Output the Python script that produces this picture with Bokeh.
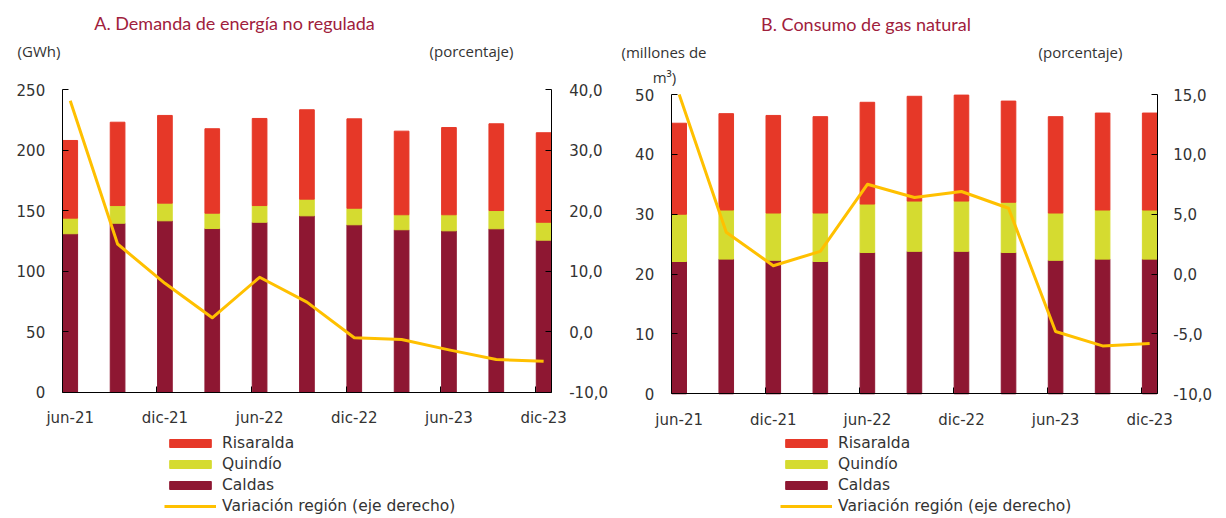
from bokeh.plotting import figure
from bokeh.models import (Range1d, LinearAxis, FixedTicker, CustomJSTickFormatter,
                          Label, Legend, LegendItem, ColumnDataSource)
from bokeh.layouts import row
from bokeh.embed import file_html
from bokeh.resources import INLINE

# ---------------- data ----------------
periods = ["jun-21", "sep-21", "dic-21", "mar-22", "jun-22", "sep-22",
           "dic-22", "mar-23", "jun-23", "sep-23", "dic-23"]
tick_labels = periods[0::2]

# A. Demanda de energía no regulada (GWh)
energy_caldas = [131.0, 139.7, 141.7, 135.3, 140.5, 145.8, 138.4, 134.3, 133.4, 135.1, 125.7]
energy_quindio = [12.9, 14.6, 14.6, 12.7, 13.8, 13.8, 13.7, 12.4, 13.3, 15.1, 14.8]
energy_risaralda = [64.2, 68.9, 72.5, 69.8, 72.0, 73.9, 73.9, 69.1, 72.1, 71.7, 74.0]
energy_var = [38.2, 14.5, 8.0, 2.3, 9.0, 4.9, -1.0, -1.3, -3.0, -4.6, -4.9]

# B. Consumo de gas natural (millones de m3)
gas_caldas = [22.1, 22.5, 22.3, 22.1, 23.6, 23.8, 23.8, 23.6, 22.3, 22.5, 22.5]
gas_quindio = [7.9, 8.2, 7.9, 8.1, 8.1, 8.4, 8.4, 8.4, 7.9, 8.2, 8.2]
gas_risaralda = [15.2, 16.1, 16.3, 16.1, 17.0, 17.5, 17.7, 16.9, 16.1, 16.2, 16.2]
gas_var = [15.0, 3.5, 0.7, 1.9, 7.5, 6.4, 6.9, 5.5, -4.8, -6.0, -5.8]

series_names = ["Risaralda", "Quindío", "Caldas", "Variación región (eje derecho)"]

# ---------------- style ----------------
C_RIS = "#E63828"
C_QUI = "#D5DB30"
C_CAL = "#8E1732"
C_LINE = "#FFC000"
TITLE_COLOR = "#A0203C"
TEXT = "#333333"
TICK_FONT = "DejaVu Sans"
TEXT_FONT = "Open Sans"
LEGEND_FONT = "DejaVu Sans"
TITLE_FONT = "Lato"
XR = (-0.17, 10.16)      # x extent of the axes (category index units)
H = 518


def make_panel(width, geo, yl, yl_ticks, yr, yr_ticks,
               caldas, quindio, risaralda, var,
               title, title_xy, texts, legend_x, r_standoff):
    gl, gr, gb, gt = geo   # pixel positions: left axis, right axis, bottom, top of axes

    def vx(px):
        return XR[0] + (px - gl) * (XR[1] - XR[0]) / (gr - gl)

    def vy(py, rng):
        return rng[0] + (gb - py) * (rng[1] - rng[0]) / (gb - gt)

    p = figure(width=width, height=H, title=None,
               x_range=Range1d(vx(0), vx(width)),
               y_range=Range1d(vy(H, yl), vy(0, yl)),
               output_backend="svg", toolbar_location=None, min_border=0)
    p.outline_line_color = None
    p.grid.visible = False
    p.extra_y_ranges = {"pct": Range1d(vy(H, yr), vy(0, yr))}

    xs = list(range(len(periods)))
    src = ColumnDataSource(dict(x=xs, periods=periods, caldas=caldas,
                                quindio=quindio, risaralda=risaralda))
    rs = p.vbar_stack(["caldas", "quindio", "risaralda"], x="x", width=0.31,
                      color=[C_CAL, C_QUI, C_RIS], source=src)
    lsrc = ColumnDataSource(dict(x=xs, period=periods, v=var))
    ln = p.line("x", "v", source=lsrc, y_range_name="pct", line_color=C_LINE,
                line_width=3, line_join="round")

    # x axis
    xa = p.xaxis[0]
    xa.fixed_location = yl[0]
    xa.bounds = XR
    xa.ticker = FixedTicker(ticks=[0, 2, 4, 6, 8, 10],
                            minor_ticks=[1.83, 3.83, 5.83, 7.83, 9.83])
    xa.formatter = CustomJSTickFormatter(
        args=dict(labels=tick_labels),
        code="const i = Math.round(tick/2); return (i >= 0 && i < labels.length) ? labels[i] : '';")
    xa.major_tick_in = 0
    xa.major_tick_out = 0
    xa.minor_tick_in = 6
    xa.minor_tick_out = 0
    xa.minor_tick_line_color = "black"
    xa.major_label_standoff = 17

    # left y axis
    ya = p.yaxis[0]
    ya.fixed_location = XR[0]
    ya.bounds = yl
    ya.ticker = FixedTicker(ticks=yl_ticks)
    ya.major_tick_in = 6
    ya.major_tick_out = 0
    ya.minor_tick_in = 0
    ya.minor_tick_out = 0
    ya.major_label_standoff = 17

    # right y axis
    ra = LinearAxis(y_range_name="pct", ticker=FixedTicker(ticks=yr_ticks),
                    fixed_location=XR[1], bounds=yr,
                    formatter=CustomJSTickFormatter(code="return tick.toFixed(1).replace('.', ',');"))
    ra.major_tick_in = 6
    ra.major_tick_out = 0
    ra.minor_tick_in = 0
    ra.minor_tick_out = 0
    ra.major_label_standoff = r_standoff
    p.add_layout(ra, "right")

    for ax in [xa, ya, ra]:
        ax.axis_line_color = "black"
        ax.axis_line_width = 1
        ax.major_tick_line_color = "black"
        ax.major_label_text_font = TICK_FONT
        ax.major_label_text_font_size = "15px"
        ax.major_label_text_color = TEXT

    # title and unit texts
    p.add_layout(Label(x=vx(title_xy[0]), y=vy(title_xy[1], yl), text=title,
                       text_align="center", text_baseline="alphabetic",
                       text_font=TITLE_FONT, text_font_size="18px",
                       text_color=TITLE_COLOR))
    for (t, px, py) in texts:
        p.add_layout(Label(x=vx(px), y=vy(py, yl), text=t, text_align="center",
                           text_baseline="alphabetic", text_font=TEXT_FONT,
                           text_font_size="15px", text_color=TEXT))

    legend = Legend(items=[LegendItem(label=series_names[0], renderers=[rs[2]]),
                           LegendItem(label=series_names[1], renderers=[rs[1]]),
                           LegendItem(label=series_names[2], renderers=[rs[0]]),
                           LegendItem(label=series_names[3], renderers=[ln])],
                    location=(legend_x, 2), orientation="vertical",
                    glyph_width=52, glyph_height=10, label_height=20,
                    label_standoff=6, spacing=1, padding=0, margin=0,
                    border_line_color=None, background_fill_alpha=0,
                    label_text_font=LEGEND_FONT, label_text_font_size="15.5px",
                    label_text_color=TEXT)
    p.add_layout(legend)
    return p


pA = make_panel(610, (61.7, 550.7, 391.7, 89.3),
                (0, 250), [0, 50, 100, 150, 200, 250],
                (-10, 40), [-10, 0, 10, 20, 30, 40],
                energy_caldas, energy_quindio, energy_risaralda, energy_var,
                "A. Demanda de energía no regulada", (234, 22.7),
                [("(GWh)", 38.5, 50), ("(porcentaje)", 471, 50)],
                164, 18)

pB = make_panel(616, (60.7, 546.7, 393.3, 94.0),
                (0, 50), [0, 10, 20, 30, 40, 50],
                (-10, 15), [-10, -5, 0, 5, 10, 15],
                gas_caldas, gas_quindio, gas_risaralda, gas_var,
                "B. Consumo de gas natural", (255.5, 23),
                [("(millones de", 53.5, 51), ("m³)", 54, 76), ("(porcentaje)", 470, 51)],
                170, 16)

layout = row(pA, pB, spacing=0)
open("out.html", "w").write(file_html(layout, INLINE))
